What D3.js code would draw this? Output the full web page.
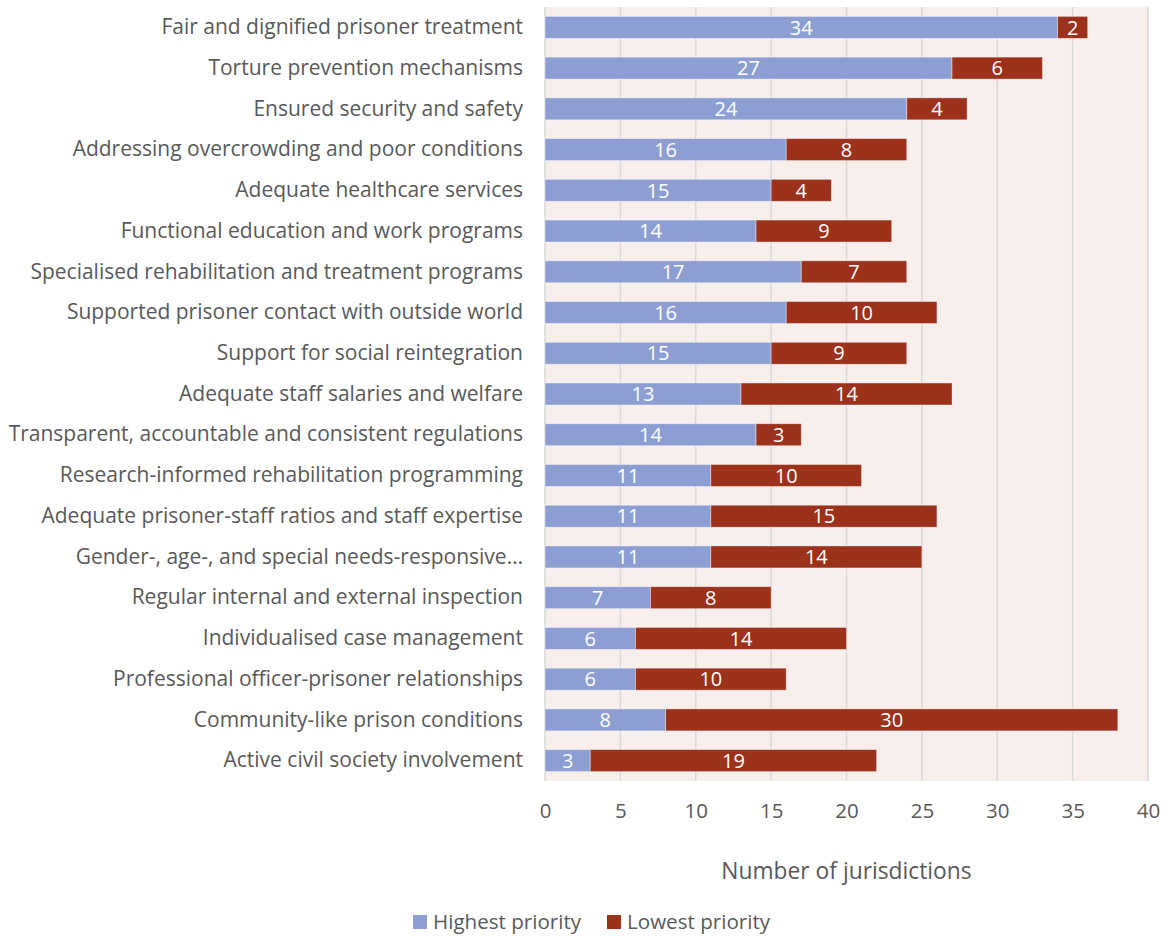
<!DOCTYPE html>
<html>
<head>
<meta charset="utf-8">
<script src="https://cdn.jsdelivr.net/npm/d3@7"></script>
<style>
  body { margin: 0; background: #fff; }
  text { font-family: "Open Sans", sans-serif; }
</style>
</head>
<body>
<div id="chart"></div>
<script>
const categories = [
  "Fair and dignified prisoner treatment",
  "Torture prevention mechanisms",
  "Ensured security and safety",
  "Addressing overcrowding and poor conditions",
  "Adequate healthcare services",
  "Functional education and work programs",
  "Specialised rehabilitation and treatment programs",
  "Supported prisoner contact with outside world",
  "Support for social reintegration",
  "Adequate staff salaries and welfare",
  "Transparent, accountable and consistent regulations",
  "Research-informed rehabilitation programming",
  "Adequate prisoner-staff ratios and staff expertise",
  "Gender-, age-, and special needs-responsive…",
  "Regular internal and external inspection",
  "Individualised case management",
  "Professional officer-prisoner relationships",
  "Community-like prison conditions",
  "Active civil society involvement"
]
const highest = [34, 27, 24, 16, 15, 14, 17, 16, 15, 13, 14, 11, 11, 11, 7, 6, 6, 8, 3]
const lowest = [2, 6, 4, 8, 4, 9, 7, 10, 9, 14, 3, 10, 15, 14, 8, 14, 10, 30, 19]
const seriesNames = ["Highest priority", "Lowest priority"]
const xTicks = [0, 5, 10, 15, 20, 25, 30, 35, 40]

const colors = ["#8D9FD2", "#9C311C"]
const textColor = "#595959"

let dim = { width: 1168, height: 936 }
let plot = { left: 545, right: 1148, top: 7, bottom: 781 }

let svg = d3.select('#chart').append('svg')
  .attr('width', dim.width)
  .attr('height', dim.height)

let scaleX = d3.scaleLinear()
  .domain([0, 40])
  .range([plot.left, plot.right])

let scaleY = d3.scaleBand()
  .domain(categories)
  .range([plot.top, plot.bottom])
  .paddingInner(0.46)
  .paddingOuter(0.23)

// plot background
svg.append('rect')
  .attr('x', plot.left).attr('y', plot.top)
  .attr('width', plot.right - plot.left)
  .attr('height', plot.bottom - plot.top)
  .attr('fill', '#F8EFEC')

// gridlines
svg.append('g')
  .selectAll('line')
  .data(xTicks)
  .enter()
  .append('line')
  .attr('x1', d => scaleX(d)).attr('x2', d => scaleX(d))
  .attr('y1', plot.top).attr('y2', plot.bottom)
  .attr('stroke', '#D9D9D9')
  .attr('stroke-width', 1.5)

let rows = categories.map((c, i) => ({ name: c, hi: highest[i], lo: lowest[i] }))

let g = svg.append('g')

// highest priority bars
g.selectAll('rect.hi')
  .data(rows)
  .enter()
  .append('rect')
  .attr('class', 'hi')
  .attr('x', scaleX(0))
  .attr('y', d => scaleY(d.name))
  .attr('width', d => scaleX(d.hi) - scaleX(0))
  .attr('height', scaleY.bandwidth())
  .attr('fill', colors[0])
  .attr('stroke', '#fff').attr('stroke-opacity', 0.5).attr('stroke-width', 0.8)

// lowest priority bars
g.selectAll('rect.lo')
  .data(rows)
  .enter()
  .append('rect')
  .attr('class', 'lo')
  .attr('x', d => scaleX(d.hi))
  .attr('y', d => scaleY(d.name))
  .attr('width', d => scaleX(d.hi + d.lo) - scaleX(d.hi))
  .attr('height', scaleY.bandwidth())
  .attr('fill', colors[1])
  .attr('stroke', '#fff').attr('stroke-opacity', 0.5).attr('stroke-width', 0.8)

// value labels
g.selectAll('text.hi')
  .data(rows)
  .enter()
  .append('text')
  .attr('x', d => (scaleX(0) + scaleX(d.hi)) / 2)
  .attr('y', d => scaleY(d.name) + scaleY.bandwidth() / 2)
  .attr('dy', '0.36em')
  .attr('text-anchor', 'middle')
  .attr('fill', '#fff')
  .attr('font-size', 20)
  .text(d => d.hi)

g.selectAll('text.lo')
  .data(rows)
  .enter()
  .append('text')
  .attr('x', d => (scaleX(d.hi) + scaleX(d.hi + d.lo)) / 2)
  .attr('y', d => scaleY(d.name) + scaleY.bandwidth() / 2)
  .attr('dy', '0.36em')
  .attr('text-anchor', 'middle')
  .attr('fill', '#fff')
  .attr('font-size', 20)
  .text(d => d.lo)

// category axis
let axisY = d3.axisLeft(scaleY).tickSize(0).tickPadding(22)
svg.append('g')
  .attr('transform', `translate(${plot.left},0)`)
  .call(axisY)
  .call(a => a.select('.domain').remove())
  .selectAll('text')
  .attr('fill', textColor)
  .attr('font-size', 21)
  .style('font-family', '"Open Sans", sans-serif')

// value axis
let axisX = d3.axisBottom(scaleX).tickValues(xTicks).tickSize(0).tickPadding(22)
svg.append('g')
  .attr('transform', `translate(0,${plot.bottom})`)
  .call(axisX)
  .call(a => a.select('.domain').remove())
  .selectAll('text')
  .attr('fill', textColor)
  .attr('font-size', 20.5)
  .style('font-family', '"Open Sans", sans-serif')

// axis title
svg.append('text')
  .attr('x', (plot.left + plot.right) / 2)
  .attr('y', 879)
  .attr('text-anchor', 'middle')
  .attr('fill', textColor)
  .attr('font-size', 22.8)
  .text('Number of jurisdictions')

// legend
let legend = svg.append('g').attr('transform', 'translate(413,922)')
let legendX = [0, 194]
seriesNames.forEach((name, i) => {
  legend.append('rect')
    .attr('x', legendX[i]).attr('y', -7)
    .attr('width', 14).attr('height', 14)
    .attr('fill', colors[i])
  legend.append('text')
    .attr('x', legendX[i] + 20).attr('y', 0)
    .attr('dy', '0.36em')
    .attr('fill', textColor)
    .attr('font-size', 20.6)
    .text(name)
})
</script>
</body>
</html>
